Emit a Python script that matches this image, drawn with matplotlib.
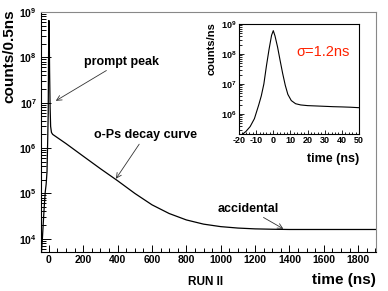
import math
import matplotlib
matplotlib.use('Agg')
import matplotlib.pyplot as plt
from matplotlib.ticker import FixedLocator, LogLocator, NullFormatter, FuncFormatter, MultipleLocator

plt.rcParams['font.family'] = ['Liberation Sans', 'DejaVu Sans']
plt.rcParams['mathtext.fontset'] = 'custom'
plt.rcParams['mathtext.rm'] = 'Liberation Sans'
plt.rcParams['mathtext.bf'] = 'Liberation Sans:bold'
plt.rcParams['axes.unicode_minus'] = False

# main spectrum, counts per 0.5 ns
t_main = [-44, -38, -32, -26, -21, -16, -11, -7, -4, -2, 0, 2, 4, 7, 10, 15, 22,
          100, 200, 300, 400, 500, 600, 700, 800, 900, 1000, 1100, 1200,
          1300, 1400, 1500, 1600, 1700, 1800, 1905]
c_main = [4.5e3, 1.0e4, 2.5e4, 6e4, 1.1e5, 1.6e5, 3e5, 1.5e6, 6e6, 1e8, 6.5e8, 3e8, 5e7, 8e6, 3e6, 2.2e6, 2.0e6,
          1.25e6, 6.6e5, 3.5e5, 1.9e5, 1.0e5, 5.6e4, 3.6e4, 2.6e4, 2.1e4, 1.85e4, 1.72e4, 1.65e4,
          1.62e4, 1.6e4, 1.6e4, 1.6e4, 1.6e4, 1.6e4, 1.6e4]

# inset: prompt peak, counts per ns
t_ins = [-19, -16, -13.5, -11, -8.5, -7, -5.5, -4, -2.5, -1, 0, 1, 2.5, 4, 5.5, 7, 8.5,
         10.5, 13, 16, 20, 25, 30, 35, 40, 45, 50]
c_ins = [1.9e5, 2.6e5, 3.8e5, 7e5, 2e6, 4e6, 1e7, 4e7, 1.4e8, 4.2e8, 6e8, 4e8, 1.7e8, 6e7, 2.2e7, 9e6, 4.5e6,
         2.8e6, 2.2e6, 2.0e6, 1.9e6, 1.85e6, 1.8e6, 1.75e6, 1.72e6, 1.68e6, 1.62e6]

x_ticks = [0, 200, 400, 600, 800, 1000, 1200, 1400, 1600, 1800]
ins_x_ticks = [-20, -10, 0, 10, 20, 30, 40, 50]


def dec_label(v, pos):
    e = int(round(math.log10(v)))
    return r'$\mathbf{10^{%d}}$' % e


W, H = 388, 291
fig = plt.figure(figsize=(W / 100, H / 100), dpi=100)
ax = fig.add_axes([41 / W, 1 - 252 / H, 335 / W, 240 / H])
ax.plot(t_main, c_main, color='black', lw=0.9)
ax.set_yscale('log')
ax.set_xlim(-46, 1904)
ax.set_ylim(5.1e3, 1e9)
ax.xaxis.set_major_locator(FixedLocator(x_ticks))
ax.xaxis.set_minor_locator(MultipleLocator(50))
ax.yaxis.set_major_locator(LogLocator(base=10, numticks=10))
ax.yaxis.set_minor_locator(LogLocator(base=10, subs=range(2, 10), numticks=20))
ax.yaxis.set_major_formatter(FuncFormatter(dec_label))
ax.yaxis.set_minor_formatter(NullFormatter())
ax.tick_params(which='both', direction='in', top=False, right=False, width=0.7)
ax.tick_params(axis='x', which='major', length=5, labelsize=7.5, pad=2.5)
ax.tick_params(axis='x', which='minor', length=3)
ax.tick_params(axis='y', which='major', length=7, labelsize=7.5, pad=3)
ax.tick_params(axis='y', which='minor', length=3.5)
for lab in ax.get_xticklabels():
    lab.set_fontweight('bold')
for s in ['top', 'right']:
    ax.spines[s].set_color('#888888')
    ax.spines[s].set_linewidth(0.8)
for s in ['left', 'bottom']:
    ax.spines[s].set_linewidth(0.8)

arrow = dict(arrowstyle='->', color='#333333', lw=0.6, shrinkA=0, shrinkB=0)
ax.annotate('prompt peak', xy=(40, 1.1e7), xytext=(420, 8e7), ha='center', va='center',
            fontsize=9, fontweight='bold', arrowprops=arrow)
ax.annotate('o-Ps decay curve', xy=(390, 2.1e5), xytext=(560, 1.9e6), ha='center', va='center',
            fontsize=9, fontweight='bold', arrowprops=arrow)
ax.annotate('accidental', xy=(1365, 1.65e4), xytext=(1160, 4.6e4), ha='center', va='center',
            fontsize=9, fontweight='bold', arrowprops=arrow)

fig.text(9 / W, 1 - 9 / H, 'counts/0.5ns', rotation=90, ha='center', va='top',
         fontsize=11, fontweight='bold')
fig.text(376 / W, 1 - 280 / H, 'time (ns)', ha='right', va='center', fontsize=11, fontweight='bold')
fig.text(206 / W, 1 - 282 / H, 'RUN II', ha='center', va='center', fontsize=8.5, fontweight='bold')

# inset
ai = fig.add_axes([239 / W, 1 - 134 / H, 120 / W, 110 / H])
ai.plot(t_ins, c_ins, color='black', lw=0.8)
ai.set_yscale('log')
ai.set_xlim(-20, 50)
ai.set_ylim(2.15e5, 1e9)
ai.xaxis.set_major_locator(FixedLocator(ins_x_ticks))
ai.xaxis.set_minor_locator(MultipleLocator(2))
ai.yaxis.set_major_locator(LogLocator(base=10, numticks=10))
ai.yaxis.set_minor_locator(LogLocator(base=10, subs=range(2, 10), numticks=20))
ai.yaxis.set_major_formatter(FuncFormatter(dec_label))
ai.yaxis.set_minor_formatter(NullFormatter())
ai.tick_params(which='both', direction='in', top=False, right=False, width=0.6)
ai.tick_params(axis='x', which='major', length=3, labelsize=6.5, pad=1.5)
ai.tick_params(axis='x', which='minor', length=1.5)
ai.tick_params(axis='y', which='major', length=3.5, labelsize=6.5, pad=2)
ai.tick_params(axis='y', which='minor', length=2)
for lab in ai.get_xticklabels():
    lab.set_fontweight('bold')
for s in ai.spines.values():
    s.set_linewidth(0.8)
ai.text(0.70, 0.75, 'σ=1.2ns', transform=ai.transAxes, ha='center', va='center',
        fontsize=10.5, color='#ff2200')

fig.text(212 / W, 1 - 22 / H, 'counts/ns', rotation=90, ha='center', va='top',
         fontsize=8, fontweight='bold')
fig.text(359 / W, 1 - 159 / H, 'time (ns)', ha='right', va='center', fontsize=9, fontweight='bold')

fig.savefig('out.png', dpi=100)
